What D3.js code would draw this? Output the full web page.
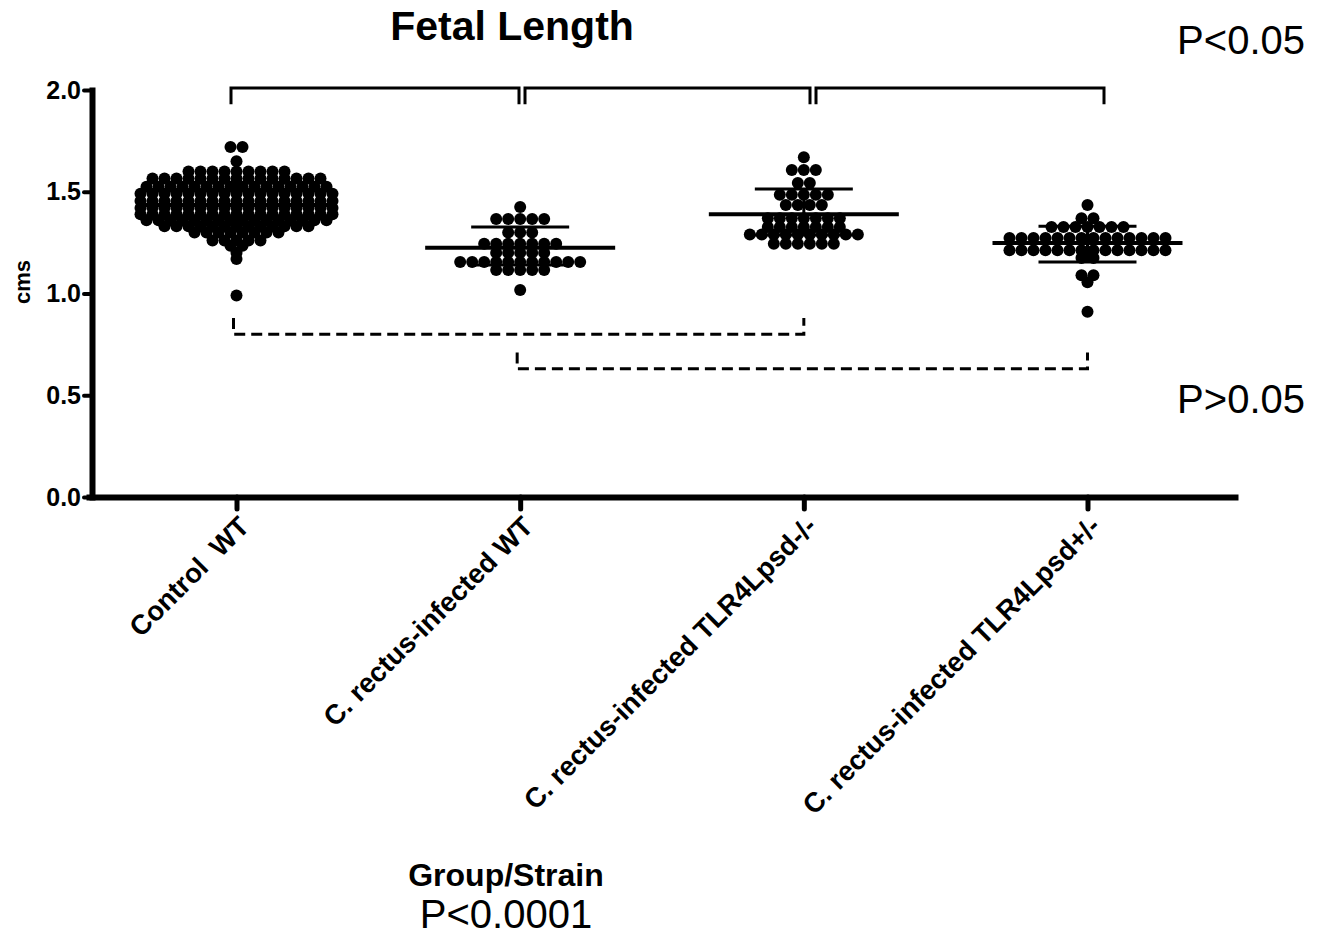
<!DOCTYPE html>
<html><head><meta charset="utf-8">
<script src="https://cdn.jsdelivr.net/npm/d3@7"></script>
<style>
body{margin:0;background:#fff}
svg{display:block}
text{font-family:Arial,"Liberation Sans",sans-serif;fill:#000;white-space:pre}
</style>
</head><body>
<svg id="c" width="1324" height="936"></svg>
<script>
// ---------- data ----------
const categories = ["Control  WT", "C. rectus-infected WT", "C. rectus-infected TLR4Lpsd-/-", "C. rectus-infected TLR4Lpsd+/-"];

const controlWT = [
  1.72, 1.72,
  1.65,
  1.60, 1.60, 1.60, 1.60, 1.60, 1.60, 1.60, 1.60, 1.60,
  1.565, 1.565, 1.565, 1.565, 1.565, 1.565, 1.565, 1.565, 1.565, 1.565, 1.565, 1.565, 1.565, 1.565, 1.565,
  1.525, 1.525, 1.525, 1.525, 1.525, 1.525, 1.525, 1.525, 1.525, 1.525, 1.525, 1.525, 1.525, 1.525, 1.525, 1.525,
  1.49, 1.49, 1.49, 1.49, 1.49, 1.49, 1.49, 1.49, 1.49, 1.49, 1.49, 1.49, 1.49, 1.49, 1.49, 1.49, 1.49,
  1.455, 1.455, 1.455, 1.455, 1.455, 1.455, 1.455, 1.455, 1.455, 1.455, 1.455, 1.455, 1.455, 1.455, 1.455, 1.455, 1.455,
  1.42, 1.42, 1.42, 1.42, 1.42, 1.42, 1.42, 1.42, 1.42, 1.42, 1.42, 1.42, 1.42, 1.42, 1.42, 1.42, 1.42,
  1.39, 1.39, 1.39, 1.39, 1.39, 1.39, 1.39, 1.39, 1.39, 1.39, 1.39, 1.39, 1.39, 1.39, 1.39, 1.39, 1.39,
  1.36, 1.36, 1.36, 1.36, 1.36, 1.36, 1.36, 1.36, 1.36, 1.36, 1.36, 1.36, 1.36, 1.36, 1.36, 1.36,
  1.33, 1.33, 1.33, 1.33, 1.33, 1.33, 1.33, 1.33, 1.33, 1.33, 1.33, 1.33, 1.33,
  1.30, 1.30, 1.30, 1.30, 1.30, 1.30, 1.30, 1.30,
  1.26, 1.26, 1.26, 1.26, 1.26,
  1.235, 1.235,
  1.20,
  1.17,
  0.99
];

const infectedWT = [
  1.425,
  1.366, 1.366, 1.366, 1.366, 1.366,
  1.30, 1.30, 1.30,
  1.245, 1.245, 1.245, 1.245, 1.245, 1.245, 1.245,
  1.20, 1.20, 1.20, 1.20, 1.20,
  1.155, 1.155, 1.155, 1.155, 1.155, 1.155, 1.155, 1.155, 1.155, 1.155, 1.155,
  1.115, 1.115, 1.115, 1.115, 1.115,
  1.017
];

const infectedTLR4null = [
  1.67,
  1.607, 1.607, 1.607,
  1.543, 1.543,
  1.485, 1.485, 1.485, 1.485, 1.485,
  1.435, 1.435, 1.435, 1.435,
  1.37, 1.37, 1.37, 1.37, 1.37, 1.37, 1.37,
  1.327, 1.327, 1.327, 1.327, 1.327, 1.327, 1.327,
  1.29, 1.29, 1.29, 1.29, 1.29, 1.29, 1.29, 1.29, 1.29, 1.29,
  1.245, 1.245, 1.245, 1.245, 1.245, 1.245
];

const infectedTLR4het = [
  1.435,
  1.37, 1.37,
  1.327, 1.327, 1.327, 1.327, 1.327, 1.327, 1.327,
  1.273, 1.273, 1.273, 1.273, 1.273, 1.273, 1.273, 1.273, 1.273, 1.273, 1.273, 1.273, 1.273, 1.273,
  1.213, 1.213, 1.213, 1.213, 1.213, 1.213, 1.213, 1.213, 1.213, 1.213, 1.213, 1.213, 1.213, 1.213,
  1.175, 1.175,
  1.09, 1.09,
  1.055,
  0.91
];

const seriesValues = [controlWT, infectedWT, infectedTLR4null, infectedTLR4het];
const means  = [1.435, 1.225, 1.39, 1.248];
const sdLow  = [1.337, 1.14, 1.287, 1.155];
const sdHigh = [1.543, 1.327, 1.513, 1.33];
const yTicks = [0.0, 0.5, 1.0, 1.5, 2.0];

// significance brackets: [from category, to category]
const solidBrackets = [[0, 1], [1, 2], [2, 3]];
// dashed brackets: [from, to, level in cms]
const dashedBrackets = [[0, 2, 0.80], [1, 3, 0.63]];

// ---------- chart ----------
const svg = d3.select("#c");
const axisX0 = 92;
const x = d3.scalePoint().domain(categories).range([89, 1235]).padding(0.52);
const y = d3.scaleLinear().domain([0, 2]).range([497, 90]);
// top brackets sit on a slightly wider spacing than the tick positions
const xb = d3.scalePoint().domain(categories).range([231, 1104]);

// dots (binned beeswarm: each distinct value forms a row, spread horizontally)
const dotStep = 12, dotR = 6;
const dots = [];
seriesValues.forEach((vals, gi) => {
  const rows = d3.group(vals, v => v.toFixed(3));
  rows.forEach(arr => {
    const n = arr.length;
    arr.forEach((v, i) => {
      dots.push({cx: x(categories[gi]) + (i - (n - 1) / 2) * dotStep, v});
    });
  });
});
svg.append("g").selectAll("circle").data(dots).join("circle")
  .attr("cx", d => d.cx).attr("cy", d => y(d.v)).attr("r", dotR).attr("fill", "#000");

// mean & SD lines
const g = svg.append("g").attr("stroke", "#000").attr("fill", "none");
categories.forEach((c, i) => {
  const cx = x(c);
  g.append("line").attr("x1", cx - 95).attr("x2", cx + 95)
    .attr("y1", y(means[i])).attr("y2", y(means[i])).attr("stroke-width", 4);
  g.append("line").attr("x1", cx - 49).attr("x2", cx + 49)
    .attr("y1", y(sdHigh[i])).attr("y2", y(sdHigh[i])).attr("stroke-width", 3);
  g.append("line").attr("x1", cx - 49).attr("x2", cx + 49)
    .attr("y1", y(sdLow[i])).attr("y2", y(sdLow[i])).attr("stroke-width", 3);
  g.append("line").attr("x1", cx).attr("x2", cx)
    .attr("y1", y(sdLow[i])).attr("y2", y(sdHigh[i])).attr("stroke-width", 3);
});

// y axis
const yAxis = svg.append("g").attr("transform", `translate(${axisX0},0)`)
  .call(d3.axisLeft(y).tickValues(yTicks).tickFormat(d3.format(".1f")).tickSize(8).tickSizeOuter(0));
yAxis.select(".domain").attr("stroke", "#000").attr("stroke-width", 6).attr("stroke-linecap", "square");
yAxis.selectAll(".tick line").attr("stroke", "#000").attr("stroke-width", 4).attr("stroke-linecap", "round");
yAxis.selectAll(".tick text").attr("font-size", 25).attr("font-weight", "bold")
  .attr("font-family", "Arial, 'Liberation Sans', sans-serif").attr("fill", "#000");

// x axis
const xAxis = svg.append("g").attr("transform", `translate(0,${y(0)})`)
  .call(d3.axisBottom(x).tickSize(12).tickSizeOuter(0).tickFormat(""));
xAxis.select(".domain").attr("stroke", "#000").attr("stroke-width", 6).attr("stroke-linecap", "square");
xAxis.selectAll(".tick line").attr("stroke", "#000").attr("stroke-width", 5).attr("stroke-linecap", "round");
xAxis.selectAll(".tick").append("text")
  .attr("transform", "translate(14,31) rotate(-45)")
  .attr("text-anchor", "end")
  .attr("font-size", 27.5).attr("font-weight", "bold").attr("fill", "#000")
  .text(d => d);

// solid brackets (top)
const bk = svg.append("g").attr("stroke", "#000").attr("fill", "none").attr("stroke-width", 3);
const topLevel = 2.01, topDrop = 1.93;
solidBrackets.forEach(([a, b]) => {
  const x1 = xb(categories[a]) + (a === 0 ? 0 : 3);
  const x2 = xb(categories[b]) - (b === categories.length - 1 ? 0 : 3);
  bk.append("path").attr("d",
    `M${x1},${y(topDrop)}V${y(topLevel)}H${x2}V${y(topDrop)}`);
});
// dashed brackets
dashedBrackets.forEach(([a, b, lv]) => {
  const x1 = x(categories[a]) - 3;
  const x2 = x(categories[b]);
  bk.append("path").attr("stroke-dasharray", "11,6").attr("d",
    `M${x1},${y(lv + 0.08)}V${y(lv)}H${x2}V${y(lv + 0.08)}`);
});

// texts
svg.append("text").attr("x", 512).attr("y", 40).attr("text-anchor", "middle")
  .attr("font-size", 41).attr("font-weight", "bold").text("Fetal Length");
svg.append("text").attr("x", 1305).attr("y", 54).attr("text-anchor", "end")
  .attr("font-size", 40).text("P<0.05");
svg.append("text").attr("x", 1305).attr("y", 413).attr("text-anchor", "end")
  .attr("font-size", 40).text("P>0.05");
svg.append("text").attr("transform", "translate(30,282) rotate(-90)").attr("text-anchor", "middle")
  .attr("font-size", 22).attr("font-weight", "bold").text("cms");
svg.append("text").attr("x", 506).attr("y", 886).attr("text-anchor", "middle")
  .attr("font-size", 32).attr("font-weight", "bold").text("Group/Strain");
svg.append("text").attr("x", 506).attr("y", 928).attr("text-anchor", "middle")
  .attr("font-size", 40).text("P<0.0001");
</script>
</body></html>
